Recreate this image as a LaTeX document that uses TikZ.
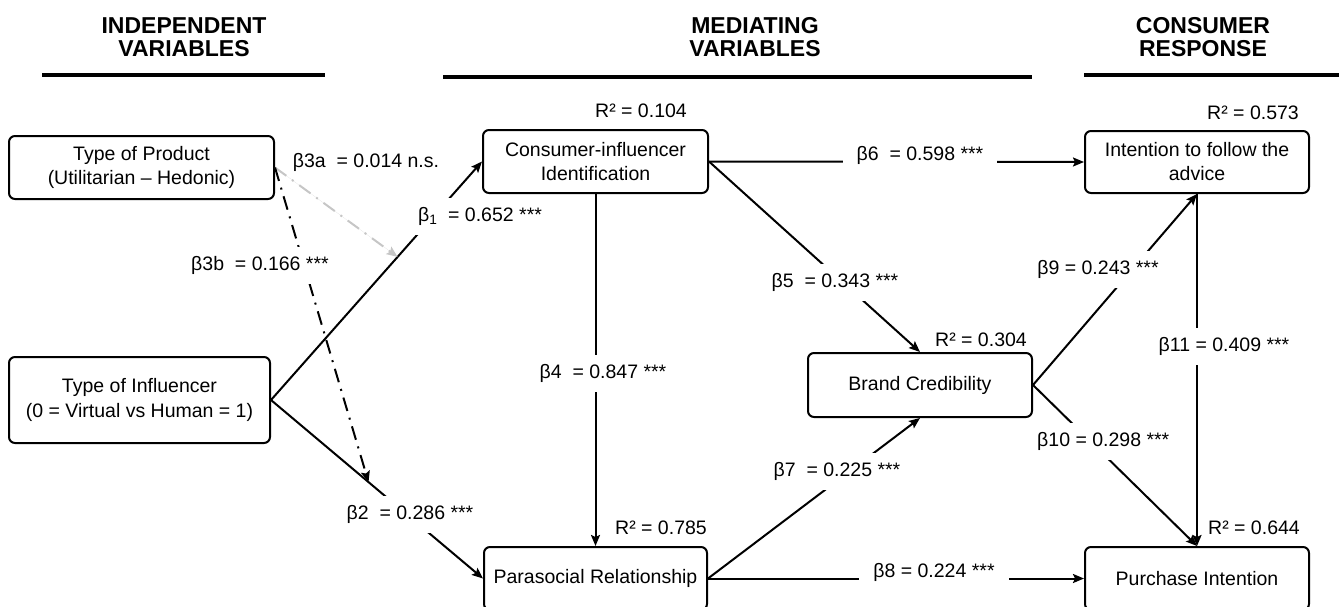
\documentclass[tikz,border=0pt]{standalone}
\usepackage{fontspec}
\setmainfont{Liberation Sans}
\usetikzlibrary{arrows.meta,calc}
\begin{document}
\begin{tikzpicture}[x=1pt,y=-1pt,
  box/.style={draw,line width=2pt,rounded corners=6pt,align=center,font=\fontsize{19.5}{24}\selectfont,minimum height=63pt,inner sep=0pt},
  conn/.style={line width=2pt,-{Stealth[length=11pt,width=9pt,inset=2pt]}},
  lbl/.style={fill=white,font=\fontsize{19.5}{24}\selectfont,inner xsep=12pt,inner ysep=0pt,minimum height=37pt},
  rsq/.style={font=\fontsize{19.5}{24}\selectfont,inner sep=0pt},
  hdr/.style={font=\fontsize{23}{23}\selectfont\bfseries,align=center},
  hrule/.style={line width=4pt},
  dashdot/.style={dash pattern=on 14pt off 7pt on 2pt off 7pt}]
\useasboundingbox (0,0) rectangle (1341,606);
\clip (0,0) rectangle (1341,606);

% headers
\node[hdr] (h1) at (184,37) {INDEPENDENT\\VARIABLES};
\node[hdr] (h2) at (755,37) {MEDIATING\\VARIABLES};
\node[hdr] (h3) at (1203,37) {CONSUMER\\RESPONSE};
\draw[hrule] (42,75) -- (325,75);
\draw[hrule] (443,77) -- (1032,77);
\draw[hrule] (1084,75) -- (1339,75);

% boxes
\node[box,minimum width=265pt] (prod) at (141.5,167.5) {Type of Product\\(Utilitarian – Hedonic)};
\node[box,minimum width=261pt,minimum height=86pt,font=\fontsize{19.5}{25}\selectfont] (infl) at (139.5,400) {Type of Influencer\\(0 = Virtual vs Human = 1)};
\node[box,minimum width=225pt] (cons) at (595.5,161.5) {Consumer-influencer\\Identification};
\node[box,minimum width=223pt] (para) at (595.5,578.5) {Parasocial Relationship};
\node[box,minimum width=224pt,minimum height=64pt] (brand) at (920,385) {Brand Credibility};
\node[box,minimum width=224pt,minimum height=62pt] (intent) at (1197,162) {Intention to follow the\\advice};
\node[box,minimum width=224pt] (purch) at (1197,578.5) {Purchase Intention};

% R squared
\node[rsq] (r1) at (641,111) {R² = 0.104};
\node[rsq] (r2) at (1253,113) {R² = 0.573};
\node[rsq] (r3) at (981,340) {R² = 0.304};
\node[rsq] (r4) at (661,528) {R² = 0.785};
\node[rsq] (r5) at (1254,528) {R² = 0.644};

% connectors
\draw[conn] (infl.east) -- (cons.west);
\draw[conn] (infl.east) -- (para.west);
\coordinate (mA) at ($(infl.east)!0.6!(cons.west)$);
\coordinate (mB) at ($(infl.east)!0.46!(para.west)$);
\draw[conn,dashdot,draw=gray!45,fill=gray!45] (prod.east) -- (mA);
\draw[conn,dashdot] (prod.east) -- (mB);
\draw[conn] (cons.south) -- (para.north);
\draw[conn] (cons.east) -- (brand.north);
\draw[conn] (cons.east) -- (intent.west);
\draw[conn] (para.east) -- (brand.south);
\draw[conn] (para.east) -- (purch.west);
\draw[conn] (brand.east) -- (intent.south);
\draw[conn] (brand.east) -- (purch.north);
\draw[conn] (intent.south) -- (purch.north);

% path labels
\node[lbl,inner sep=1pt,minimum height=0pt] (l3a) at (366,162) {β3a\ \ = 0.014 n.s.};
\node[lbl] (l1) at (480,216) {β\textsubscript{1}\ \ = 0.652 ***};
\node[lbl] (l3b) at (260,265) {β3b\ \ = 0.166 ***};
\node[lbl] (l2) at (410,514) {β2\ \ = 0.286 ***};
\node[lbl] (l4) at (603,373) {β4\ \ = 0.847 ***};
\node[lbl] (l5) at (835,282) {β5\ \ = 0.343 ***};
\node[lbl,inner xsep=14pt] (l6) at (920,155) {β6\ \ = 0.598 ***};
\node[lbl] (l7) at (837,471) {β7\ \ = 0.225 ***};
\node[lbl,inner xsep=14pt] (l8) at (934,572) {β8 = 0.224 ***};
\node[lbl] (l9) at (1098,269) {β9 = 0.243 ***};
\node[lbl] (l11) at (1224,346) {β11 = 0.409 ***};
\node[lbl,anchor=west] (l10) at (1025,441) {β10 = 0.298 ***\hspace{32pt}};
\end{tikzpicture}
\end{document}
